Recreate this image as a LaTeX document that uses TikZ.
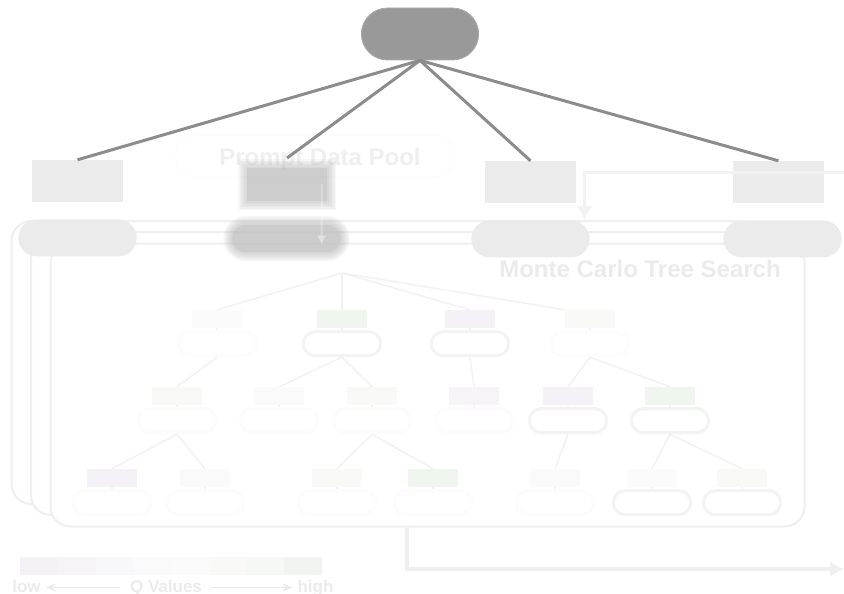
\documentclass[tikz,border=0pt]{standalone}
\usepackage{fontspec}
\setmainfont{Liberation Sans}
\usetikzlibrary{positioning, arrows.meta, shapes.misc}

% greys
\definecolor{rootgray}{HTML}{999999}
\definecolor{linkgray}{HTML}{8C8C8C}
\definecolor{pale}{HTML}{EBEBEB}
\definecolor{haze}{HTML}{C8C8C8}
\definecolor{faint}{HTML}{EFEFEF}
\definecolor{ring}{HTML}{F3F3F3}
\definecolor{ghost}{HTML}{FCFCFC}
\definecolor{treeline}{HTML}{F2F2F2}
% Q value scale, low (purple) to high (green)
\definecolor{qa}{HTML}{F4F2F6}
\definecolor{qb}{HTML}{F6F4F7}
\definecolor{qc}{HTML}{F8F7F9}
\definecolor{qd}{HTML}{FAFAFA}
\definecolor{qe}{HTML}{FBFBFB}
\definecolor{qf}{HTML}{F9FAF8}
\definecolor{qg}{HTML}{F5F8F4}
\definecolor{qh}{HTML}{F0F5F0}

\tikzset{
  qbox/.style={rectangle, fill=#1, minimum width=50pt, minimum height=18pt},
  qpill/.style={rounded rectangle, draw=#1, line width=3pt, fill=white, minimum width=84pt, minimum height=24pt}
}

\begin{document}
\begin{tikzpicture}[
        x=1pt, y=-1pt,
        node distance=17pt,
        rootpill/.style={rounded rectangle, draw=gray!65, line width=0.8pt, fill=rootgray, minimum width=124pt, minimum height=52pt},
        poolbox/.style={rectangle, fill=pale, minimum width=91pt, minimum height=42pt},
        poolpill/.style={rounded rectangle, fill=pale, minimum width=125pt, minimum height=37pt},
        link/.style={draw=linkgray, line width=3pt},
        mctsbox/.style={rectangle, rounded corners=20pt, draw=faint, line width=2pt, fill=white, minimum width=754pt, minimum height=283pt},
        treelink/.style={draw=treeline, line width=1.5pt},
        flowarrow/.style={draw=faint, line width=3.5pt, -{Latex[length=14pt, width=16pt]}},
        heading/.style={text=pale, font=\bfseries\fontsize{24}{28}\selectfont},
        legend/.style={text=pale, font=\bfseries\fontsize{17}{20}\selectfont, text height=12pt, text depth=3pt, inner sep=2pt},
        legendarrow/.style={draw=pale, line width=1.5pt, -{Stealth[length=10pt, width=8pt]}}
      ]
        \useasboundingbox (0,0) rectangle (844,594);

        % MCTS iterations, stacked
        \node[mctsbox] (mctsback1) at (388.5,362.5) {};
        \node[mctsbox] (mctsback2) at (408,373.5) {};
        \node[mctsbox] (mctsfront) at (427.5,385) {};
        \node[heading, anchor=base] (mctstitle) at (640,277) {Monte Carlo Tree Search};

        % Search tree
        \coordinate (mcts) at (342,273);
        \foreach \n/\px/\py/\qc/\pc in {
            ta/217/319/qe/ghost, tb/342/319/qh/ring, tc/470/319/qa/ring, td/590/319/qf/ghost,
            taa/177/396/qf/ghost, tba/279/396/qd/ghost, tbb/372/396/qf/ghost,
            tca/474/396/qb/ghost, tda/568/396/qa/ring, tdb/670/396/qh/ring,
            taaa/112/478/qa/ghost, taab/205/478/qd/ghost, tbba/337/478/qf/ghost,
            tbbb/433/478/qh/ghost, tdaa/555/478/qd/ghost, tdba/652/478/qe/ring,
            tdbb/742/478/qf/ring}{
          \node[qbox=\qc] (\n) at (\px,\py) {};
          \node[qpill=\pc, below=2pt of \n] (\n-p) {};
          \draw[treelink] (\n) -- (\n-p);
        }
        \draw[treelink] (mcts) -- (ta.north);
        \draw[treelink] (mcts) -- (tb.north);
        \draw[treelink] (mcts) -- (tc.north);
        \draw[treelink] (mcts) -- (td.north west);
        \foreach \a/\b in {ta/taa, tb/tba, tb/tbb, tc/tca, td/tda, td/tdb,
                           taa/taaa, taa/taab, tbb/tbba, tbb/tbbb,
                           tda/tdaa, tdb/tdba, tdb/tdbb}
          \draw[treelink] (\a-p.south) -- (\b.north);

        % Prompt pool
        \node[rounded rectangle, draw=ghost, line width=1.5pt, minimum width=286pt, minimum height=42pt] (poolframe) at (315,156) {};
        \node[heading, text=faint, anchor=base] (pooltitle) at (320,165) {Prompt Data Pool};

        \node[poolbox] (box1) at (77.5,181) {};
        \node[poolbox] (box3) at (530.5,182) {};
        \node[poolbox] (box4) at (778.5,182) {};
        \node[poolpill, below=of box1] (pill1) {};
        \node[poolpill, below=of box3] (pill3) {};
        \node[poolpill, below=of box4, xshift=4pt] (pill4) {};

        % selected prompt, out of focus
        \coordinate (box2c) at (287,184.5);
        \coordinate (pill2c) at (286.5,238.5);
        \foreach \grow in {18,15,...,3} {
          \node[poolbox, fill=gray!60, fill opacity=0.11, minimum width={(80+\grow)*1pt}, minimum height={(33+\grow)*1pt}] at (box2c) {};
          \node[poolpill, fill=gray!60, fill opacity=0.11, minimum width={(115+\grow)*1pt}, minimum height={(27+\grow)*1pt}] at (pill2c) {};
        }
        \node[poolbox, fill=haze, fill opacity=0.7, minimum width=80pt, minimum height=33pt] (box2) at (box2c) {};
        \node[poolpill, fill=haze, fill opacity=0.7, minimum width=115pt, minimum height=27pt] (pill2) at (pill2c) {};
        \draw[draw=white, line width=2pt, -{Latex[length=9pt, width=10pt]}, opacity=0.3]
          ([xshift=35pt]box2.center) -- ([xshift=35pt, yshift=-6pt]pill2.center);

        % Feedback and output flows
        \coordinate (feed) at (844,172);
        \draw[flowarrow, line width=3pt, draw=faint!80] (feed) -| ([xshift=54pt]pill3.north);
        \coordinate (out) at (844,569);
        \draw[flowarrow, line width=4pt] ([xshift=-20.5pt]mctsfront.south) |- (out);

        % Root and its links
        \node[rootpill] (root) at (420,34) {};
        \draw[link] (root.south) -- (box1.north);
        \draw[link] (root.south) -- (box2c |- 0,158);
        \draw[link] (root.south) -- (box3.north);
        \draw[link] (root.south) -- (box4.north);

        % Q value legend
        \foreach \c [count=\i from 0] in {qa,qb,qc,qd,qe,qf,qg,qh}
          \fill[\c] (20+\i*37.75,557) rectangle ++(37.75,18);
        \node[legend, anchor=base] (low) at (26.5,592) {low};
        \node[legend, anchor=base] (qlabel) at (166,592) {Q Values};
        \node[legend, anchor=base] (high) at (315.5,592) {high};
        \draw[legendarrow] ([xshift=-8pt]qlabel.west) -- ([xshift=3pt]low.east);
        \draw[legendarrow] ([xshift=8pt]qlabel.east) -- ([xshift=-3pt]high.west);

      \end{tikzpicture}
\end{document}
